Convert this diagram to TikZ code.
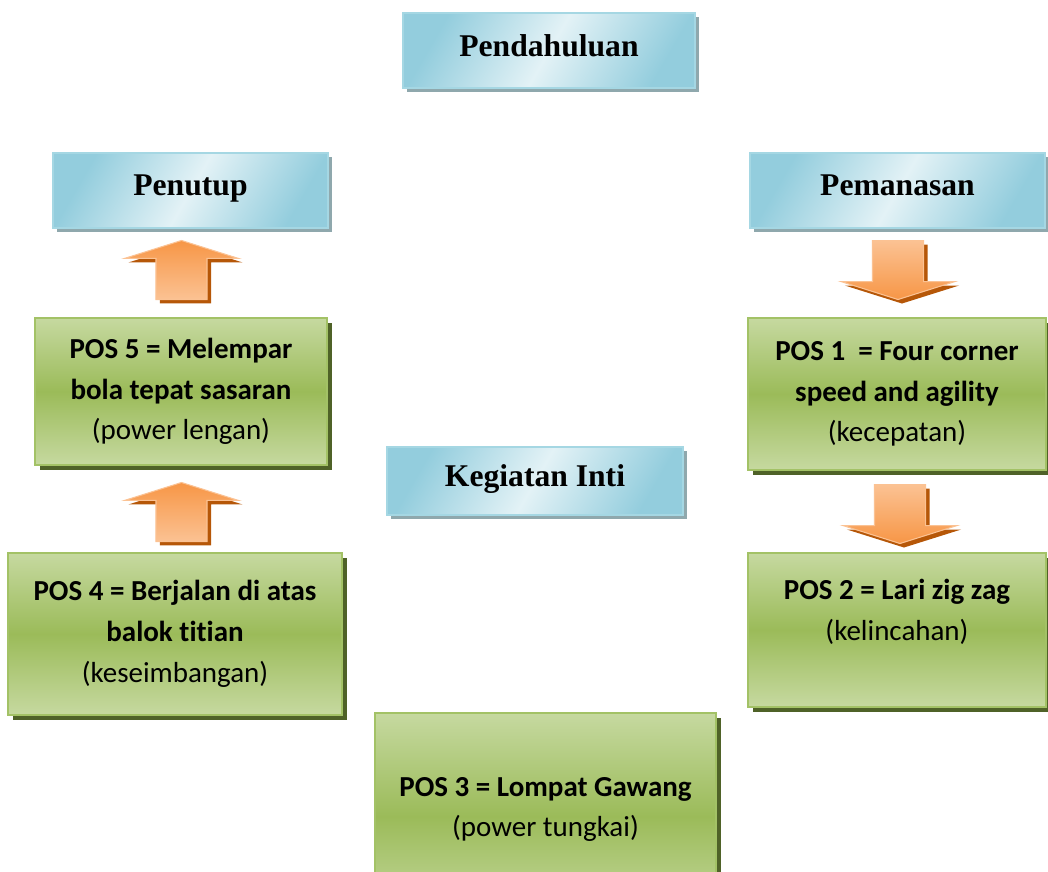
\documentclass[tikz,border=0pt]{standalone}
\usepackage{fontspec}
\setmainfont{Liberation Serif}
\newfontfamily\carlito[Ligatures=NoCommon]{Carlito}
\usetikzlibrary{shapes.arrows,shadows}
\definecolor{birutepi}{HTML}{93CDDD}
\definecolor{birutengah}{HTML}{E3F2F6}
\definecolor{birugaris}{HTML}{A5D7E3}
\definecolor{birubayang}{HTML}{8FA8AD}
\definecolor{hijauterang}{HTML}{C6D9A0}
\definecolor{hijaugelap}{HTML}{9BBB59}
\definecolor{hijaugaris}{HTML}{A3C266}
\definecolor{hijaubayang}{HTML}{4F6228}
\definecolor{oranye}{HTML}{F79646}
\definecolor{oranyemuda}{HTML}{FBC293}
\definecolor{oranyebayang}{HTML}{B65708}
\begin{document}
\begin{tikzpicture}[x=0.02cm,y=-0.02cm,
  judul/.style={draw=birugaris, line width=0.9pt, left color=birutepi, right color=birutepi, middle color=birutengah, shading angle=60,
                minimum height=1.5cm, inner sep=0pt, text depth=0.2cm, font=\fontsize{18}{20}\selectfont\bfseries,
                drop shadow={shadow xshift=0.08cm, shadow yshift=-0.08cm, fill=birubayang, opacity=1}},
  posbox/.style={draw=hijaugaris, line width=1.2pt, top color=hijauterang, bottom color=hijauterang, middle color=hijaugelap,
              align=center, inner sep=0pt, font=\carlito\fontsize{16.5}{23.2}\selectfont,
              drop shadow={shadow xshift=0.1cm, shadow yshift=-0.1cm, fill=hijaubayang, opacity=1}},
  panah/.style={single arrow, draw=oranyemuda, line width=0.6pt, minimum height=1.18cm, minimum width=2.26cm,
                single arrow head extend=0.63cm, single arrow tip angle=145, single arrow head indent=0pt,
                inner xsep=0.5cm, inner ysep=0.2cm, anchor=tail,
                drop shadow={shadow xshift=0.08cm, shadow yshift=-0.08cm, fill=oranyebayang, opacity=1}},
  naik/.style={panah, shape border rotate=90, top color=oranye, bottom color=oranyemuda},
  turun/.style={panah, shape border rotate=270, top color=oranyemuda, bottom color=oranye}]
  \useasboundingbox (0,0) rectangle (1048,872);
  \clip (0,0) rectangle (1048,872);
  \node[judul, minimum width=5.84cm] (pend) at (549,50.5) {Pendahuluan};
  \node[judul, minimum width=5.5cm] (tutup) at (190.5,190.5) {Penutup};
  \node[judul, minimum width=5.9cm] (panas) at (897.5,190.5) {Pemanasan};
  \node[judul, minimum width=5.92cm, minimum height=1.36cm] (inti) at (535,481) {Kegiatan Inti};
  \node[posbox, minimum width=5.84cm, minimum height=2.94cm] (pos5) at (181,391.5)
    {\textbf{POS 5 = Melempar}\\\textbf{bola tepat sasaran}\\(power lengan)};
  \node[posbox, minimum width=5.96cm, minimum height=3.04cm] (pos1) at (897,394)
    {\textbf{POS 1\ \ = Four corner}\\\textbf{speed and agility}\\(kecepatan)};
  \node[posbox, minimum width=6.68cm, minimum height=3.24cm] (pos4) at (175,634)
    {\textbf{POS 4 = Berjalan di atas}\\\textbf{balok titian}\\(keseimbangan)};
  \node[posbox, minimum width=5.96cm, minimum height=3.08cm] (pos2) at (897,630)
    {\textbf{POS 2 = Lari zig zag}\\(kelincahan)\\\mbox{}};
  \node[posbox, minimum width=6.82cm, minimum height=4.14cm] (pos3) at (545.5,816.5)
    {\mbox{}\\\textbf{POS 3 = Lompat Gawang}\\(power tungkai)\\\mbox{}};
  \node[naik] (n1) at (181.5,300) {};
  \node[naik] (n2) at (181.5,542) {};
  \node[turun] (t1) at (898,240) {};
  \node[turun] (t2) at (900,484) {};
\end{tikzpicture}
\end{document}
